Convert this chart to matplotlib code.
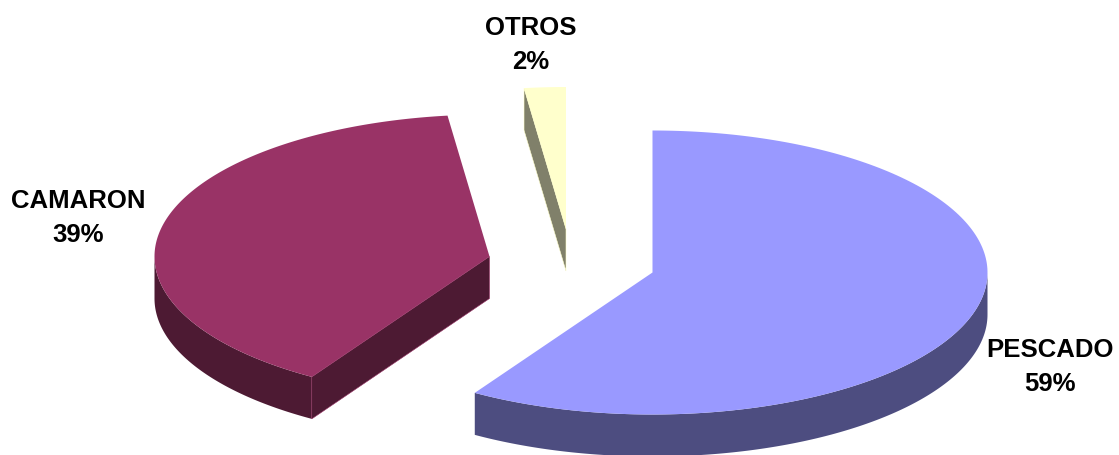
import numpy as np
import matplotlib
matplotlib.use("Agg")
import matplotlib.pyplot as plt
from matplotlib.patches import Polygon

labels = ["PESCADO", "CAMARON", "OTROS"]
values = [58.9, 39.1, 2.0]
top_colors = ["#9999FF", "#993366", "#FFFFCC"]
side_colors = ["#4D4D80", "#4D1A33", "#80806A"]

# pie vertex of each slice, in pixels (exploded)
centers = [(652.5, 273.5), (489.5, 257.5), (566, 230)]
label_pos = [(1050, 367), (78, 218), (531, 45)]
rx = 335
ry = 142
depth = 42


def rim(cx, cy, a0, a1):
    # angles in degrees clockwise from 12 o'clock
    t = np.radians(np.linspace(a0, a1, 200))
    return np.column_stack([cx + rx * np.sin(t), cy - ry * np.cos(t)])


plt.rcParams["font.family"] = ["Liberation Sans", "DejaVu Sans"]
fig = plt.figure(figsize=(11.19, 4.56), dpi=100)
ax = fig.add_axes([0, 0, 1, 1])
ax.set_xlim(0, 1119)
ax.set_ylim(456, 0)
ax.axis("off")

start = 0
for i in range(len(values)):
    end = start + values[i] * 3.6
    cx, cy = centers[i]
    arc = rim(cx, cy, start, end)
    drop = np.array([0, depth])

    # outer wall, only the part facing the viewer
    lo = max(start, 90)
    hi = min(end, 270)
    if lo < hi:
        wall = rim(cx, cy, lo, hi)
        ax.add_patch(Polygon(np.vstack([wall, wall[::-1] + drop]), closed=True,
                             fc=side_colors[i], ec="none", zorder=2))

    # leading cut face shows when it sits left of the vertex
    p = rim(cx, cy, start, start)[0]
    if p[0] < cx:
        v = np.array([cx, cy])
        ax.add_patch(Polygon([p, v, v + drop, p + drop], closed=True,
                             fc=side_colors[i], ec=top_colors[i], lw=0.4, zorder=2.5))

    ax.add_patch(Polygon(np.vstack([[cx, cy], arc]), closed=True,
                         fc=top_colors[i], ec="none", zorder=3))

    ax.text(label_pos[i][0], label_pos[i][1],
            "%s\n%.0f%%" % (labels[i], values[i]), ha="center", va="center",
            fontsize=18.5, fontweight="bold", color="black", linespacing=1.48)
    start = end

fig.savefig("out.png", dpi=100, facecolor="white")
